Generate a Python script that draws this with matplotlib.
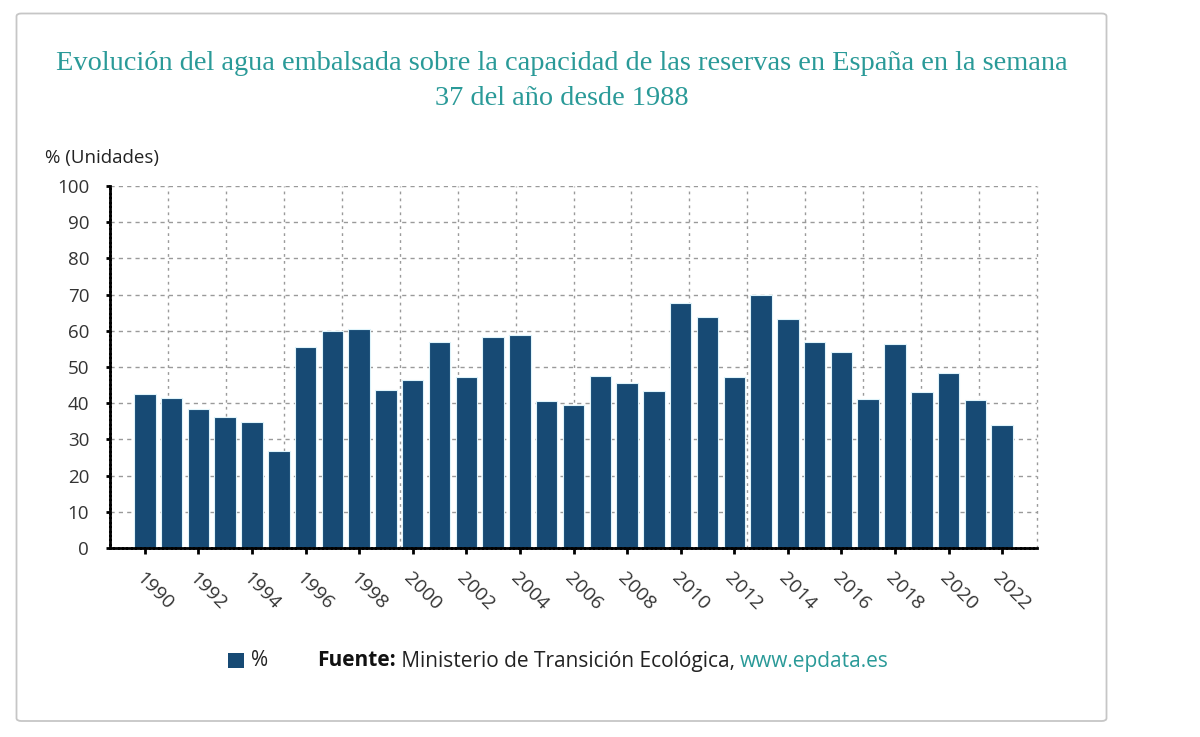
import matplotlib
matplotlib.use("Agg")
import matplotlib.pyplot as plt
from matplotlib.patches import FancyBboxPatch, Rectangle
import numpy as np

years = list(range(1990, 2023))
values = [42.5, 41.3, 38.3, 36.3, 34.8, 26.9, 55.5, 60.0, 60.4, 43.7,
          46.4, 56.8, 47.1, 58.2, 58.8, 40.7, 39.4, 47.6, 45.5, 43.5,
          67.6, 63.9, 47.1, 70.0, 63.3, 57.0, 54.1, 41.1, 56.4, 43.2,
          48.3, 40.8, 34.1]
tick_years = list(range(1990, 2023, 2))
yticks = list(range(0, 101, 10))

title = ("Evolución del agua embalsada sobre la capacidad de las reservas en España en la semana\n"
         "37 del año desde 1988")
ylabel = "% (Unidades)"
legend_label = "%"
source_bold = "Fuente:"
source_text = " Ministerio de Transición Ecológica, "
source_url = "www.epdata.es"

BAR = "#174a74"
TEAL = "#2a9a98"
SANS = ["Open Sans", "DejaVu Sans"]

fig = plt.figure(figsize=(12, 7.37), dpi=100)
fig.patches.append(FancyBboxPatch((16.5 / 1200, 1 - 721 / 737), (1106.5 - 16.5) / 1200, (721 - 13.5) / 737,
                                  boxstyle="round,pad=0,rounding_size=0.004",
                                  transform=fig.transFigure, facecolor="white",
                                  edgecolor="#c6c6c6", linewidth=1.3, zorder=-5))

ax = fig.add_axes([110 / 1200, 1 - 548 / 737, (1037 - 110) / 1200, (548 - 186) / 737])
ax.bar(years, values, width=0.8, color=BAR, edgecolor="#dff4fb", linewidth=0.8, zorder=3)
ax.set_xlim(1988.7, 2023.3)
ax.set_ylim(0, 100)

# horizontal grid
ax.set_yticks(yticks)
ax.yaxis.grid(True, linestyle=(0, (3, 3)), color="#9a9a9a", linewidth=1.0, zorder=0)
# vertical grid: 16 equal divisions of the plot width
for i in range(1, 17):
    ax.plot([i / 16, i / 16], [0, 1], transform=ax.transAxes, linestyle=(0, (2, 3)),
            color="#9a9a9a", linewidth=1.0, zorder=0, clip_on=False)

ax.set_xticks(tick_years)
ax.set_xticklabels([str(y) for y in tick_years], rotation=-45, ha="left", va="top",
                   rotation_mode="anchor", fontsize=14, color="#333333", family=SANS)
ax.tick_params(axis="x", length=4, width=2, color="black", pad=11)
ax.tick_params(axis="y", length=3, width=2, color="black", direction="out", pad=12,
               labelsize=13.5, labelcolor="#333333")
for lab in ax.get_yticklabels():
    lab.set_family(SANS)

for s in ["top", "right"]:
    ax.spines[s].set_visible(False)
ax.spines["left"].set_linewidth(2)
ax.spines["left"].set_linestyle((0, (1, 0.6)))
ax.spines["bottom"].set_linewidth(2)
ax.spines["bottom"].set_linestyle((0, (1, 0.6)))
ax.spines["bottom"].set_zorder(4)

fig.text(45 / 1200, 1 - 158 / 737, ylabel, fontsize=13.5, family=SANS, color="#222222",
         ha="left", va="center")

fig.text(562 / 1200, 1 - 81 / 737, title, fontsize=20.4, family=["Liberation Serif"],
         color=TEAL, ha="center", va="center", linespacing=1.55)

# legend / source line
FS = 15
fig.patches.append(Rectangle((228 / 1200, 1 - 668 / 737), 16 / 1200, 15 / 737,
                             transform=fig.transFigure, facecolor=BAR, edgecolor="none"))
fig.text(251 / 1200, 1 - 661 / 737, legend_label, fontsize=FS, family=SANS, color="#222222",
         ha="left", va="center")
t1 = fig.text(317 / 1200, 1 - 661 / 737, source_bold, fontsize=FS, family=SANS,
              fontweight="bold", color="#111111", ha="left", va="center")
fig.canvas.draw()
r = fig.canvas.get_renderer()
bb = t1.get_window_extent(r)
t2 = fig.text(bb.x1 / 1200, 1 - 661 / 737, source_text, fontsize=FS, family=SANS,
              color="#222222", ha="left", va="center")
bb2 = t2.get_window_extent(r)
fig.text(bb2.x1 / 1200, 1 - 661 / 737, source_url, fontsize=FS, family=SANS,
         color=TEAL, ha="left", va="center")

fig.savefig("out.png", dpi=100)
